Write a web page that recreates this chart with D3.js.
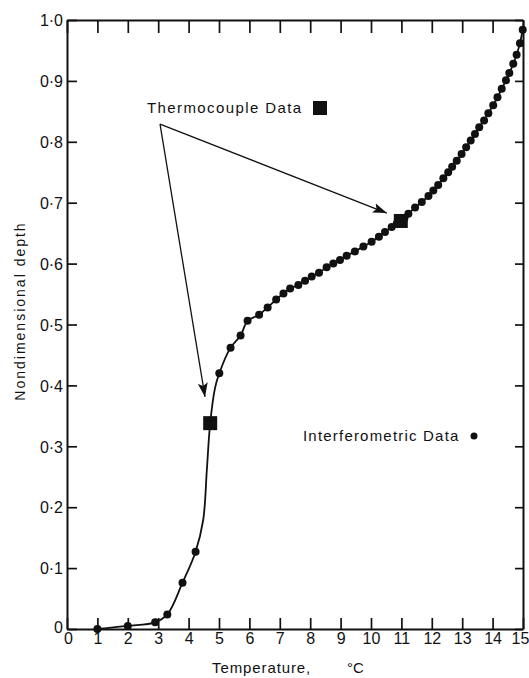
<!DOCTYPE html>
<html>
<head>
<meta charset="utf-8">
<script src="https://cdn.jsdelivr.net/npm/d3@7"></script>
<style>
  body { margin: 0; background: #fff; }
  svg text { font-family: "Liberation Sans", Arial, sans-serif; fill: #111; }
</style>
</head>
<body>
<svg id="chart"></svg>
<script>
// Values
const interfTemp = [1.0, 2.0, 2.9, 3.3, 3.8, 4.23, 5.01, 5.38, 5.71, 5.94, 6.32, 6.6, 6.88, 7.12,
  7.34, 7.61, 7.83, 8.05, 8.29, 8.54, 8.76, 8.98, 9.2, 9.47, 9.75, 10.02, 10.26, 10.46, 10.68,
  10.85, 11.1, 11.23, 11.45, 11.67, 11.89, 12.05, 12.21, 12.38, 12.54, 12.67, 12.82, 12.98,
  13.13, 13.28, 13.42, 13.56, 13.72, 13.86, 14.02, 14.16, 14.3, 14.44, 14.55, 14.68, 14.79,
  14.9, 14.99];
const interfDepth = [0.0, 0.005, 0.011, 0.024, 0.076, 0.127, 0.42, 0.462, 0.482, 0.506, 0.516,
  0.528, 0.541, 0.551, 0.559, 0.565, 0.572, 0.579, 0.585, 0.594, 0.6, 0.606, 0.613, 0.62,
  0.628, 0.636, 0.644, 0.652, 0.66, 0.666, 0.675, 0.682, 0.692, 0.701, 0.711, 0.72, 0.729,
  0.74, 0.75, 0.759, 0.769, 0.78, 0.791, 0.802, 0.813, 0.824, 0.835, 0.847, 0.86, 0.873,
  0.887, 0.901, 0.913, 0.928, 0.943, 0.962, 0.984];

const thermoTemp = [4.71, 10.98];
const thermoDepth = [0.338, 0.67];

// extra points where the fitted line runs between markers (steep part)
const lineOnlyTemp = [4.48, 4.6, 4.87];
const lineOnlyDepth = [0.179, 0.261, 0.396];

const xTicks = d3.range(0, 16);
const yTicks = d3.range(0, 11).map((i) => i / 10);

// annotation anchor points (temperature, depth)
const arrowStart = [3.06, 0.829];
const arrowTips = [[4.54, 0.381], [10.52, 0.683]];

const width = 529;
const height = 678;
const margin = { top: 20, right: 6, bottom: 49, left: 67 };
const innerW = width - margin.left - margin.right;
const innerH = height - margin.top - margin.bottom;

const svg = d3.select("#chart").attr("width", width).attr("height", height);

const defs = svg.append("defs");
defs
  .append("marker")
  .attr("id", "head")
  .attr("viewBox", "0 0 14 10")
  .attr("refX", 14)
  .attr("refY", 5)
  .attr("markerWidth", 14)
  .attr("markerHeight", 10)
  .attr("markerUnits", "userSpaceOnUse")
  .attr("orient", "auto")
  .append("path")
  .attr("d", "M0,0 L14,5 L0,10 L3,5 Z")
  .attr("fill", "#111");

const g = svg.append("g").attr("transform", `translate(${margin.left},${margin.top})`);

const x = d3.scaleLinear().domain([0, 15]).range([0, innerW]);
const y = d3.scaleLinear().domain([0, 1]).range([innerH, 0]);

const yFmt = (d) => (d === 0 ? "0" : d3.format(".1f")(d).replace(".", "·"));

// Axes: ticks all point inward, labels only on bottom and left
const axBottom = g
  .append("g")
  .attr("transform", `translate(0,${innerH})`)
  .call(d3.axisBottom(x).tickValues(xTicks).tickSize(-11).tickSizeOuter(0).tickPadding(4).tickFormat(d3.format("d")));
const axLeft = g
  .append("g")
  .call(d3.axisLeft(y).tickValues(yTicks).tickSize(-10).tickSizeOuter(0).tickPadding(4).tickFormat(yFmt));
const axTop = g
  .append("g")
  .call(d3.axisTop(x).tickValues(xTicks).tickSize(-13).tickSizeOuter(0).tickFormat(""));
const axRight = g
  .append("g")
  .attr("transform", `translate(${innerW},0)`)
  .call(d3.axisRight(y).tickValues(yTicks).tickSize(-8).tickSizeOuter(0).tickFormat(""));

[axBottom, axLeft, axTop, axRight].forEach((a) => {
  a.select(".domain").attr("stroke", "#111").attr("stroke-width", 2);
  a.selectAll(".tick line").attr("stroke", "#111").attr("stroke-width", 1.7);
  a.selectAll(".tick text").style("font-size", "16px").attr("fill", "#111");
});
axLeft.selectAll(".tick text").attr("dy", (d) => (d === 0 ? "0.2em" : "0.36em"));
// "15" sits right at the page edge
axBottom.selectAll(".tick text").attr("dx", (d) => (d === 0 ? 1 : d === 15 ? -3 : 0));

// Axis titles
g.append("text")
  .attr("x", 145)
  .attr("y", innerH + 44)
  .style("font-size", "15px")
  .style("letter-spacing", "0.9px")
  .text("Temperature,");
g.append("text")
  .attr("x", 280)
  .attr("y", innerH + 44)
  .style("font-size", "15px")
  .text("°C");
g.append("text")
  .attr("transform", `translate(${-42},${291}) rotate(-90)`)
  .attr("text-anchor", "middle")
  .style("font-size", "14px")
  .style("letter-spacing", "2px")
  .text("Nondimensional depth");

// Fitted curve through all measurements
const linePts = interfTemp
  .map((t, i) => [t, interfDepth[i]])
  .concat(thermoTemp.map((t, i) => [t, thermoDepth[i]]))
  .concat(lineOnlyTemp.map((t, i) => [t, lineOnlyDepth[i]]))
  .sort((a, b) => a[0] - b[0]);

const line = d3
  .line()
  .x((d) => x(d[0]))
  .y((d) => y(d[1]))
  .curve(d3.curveCatmullRom.alpha(0.5));

g.append("path")
  .datum(linePts)
  .attr("fill", "none")
  .attr("stroke", "#111")
  .attr("stroke-width", 1.8)
  .attr("d", line);

// Interferometric dots
g.selectAll(".dot")
  .data(interfTemp.map((t, i) => [t, interfDepth[i]]))
  .enter()
  .append("circle")
  .attr("class", "dot")
  .attr("cx", (d) => x(d[0]))
  .attr("cy", (d) => y(d[1]))
  .attr("r", 4)
  .attr("fill", "#111");

// Thermocouple squares
g.selectAll(".sq")
  .data(thermoTemp.map((t, i) => [t, thermoDepth[i]]))
  .enter()
  .append("rect")
  .attr("class", "sq")
  .attr("x", (d) => x(d[0]) - 7)
  .attr("y", (d) => y(d[1]) - 7)
  .attr("width", 14)
  .attr("height", 14)
  .attr("fill", "#111");

// Arrows
arrowTips.forEach((tip) => {
  g.append("line")
    .attr("x1", x(arrowStart[0]))
    .attr("y1", y(arrowStart[1]))
    .attr("x2", x(tip[0]))
    .attr("y2", y(tip[1]))
    .attr("stroke", "#111")
    .attr("stroke-width", 1.3)
    .attr("marker-end", "url(#head)");
});

// Legends
g.append("text")
  .attr("x", 80)
  .attr("y", 93)
  .style("font-size", "15px")
  .style("letter-spacing", "1.4px")
  .text("Thermocouple Data");
g.append("rect")
  .attr("x", 246)
  .attr("y", 81)
  .attr("width", 14)
  .attr("height", 14)
  .attr("fill", "#111");

g.append("text")
  .attr("x", 236)
  .attr("y", 421)
  .style("font-size", "15px")
  .style("letter-spacing", "1.2px")
  .text("Interferometric Data");
g.append("circle")
  .attr("cx", 407)
  .attr("cy", 416)
  .attr("r", 3.5)
  .attr("fill", "#111");
</script>
</body>
</html>
